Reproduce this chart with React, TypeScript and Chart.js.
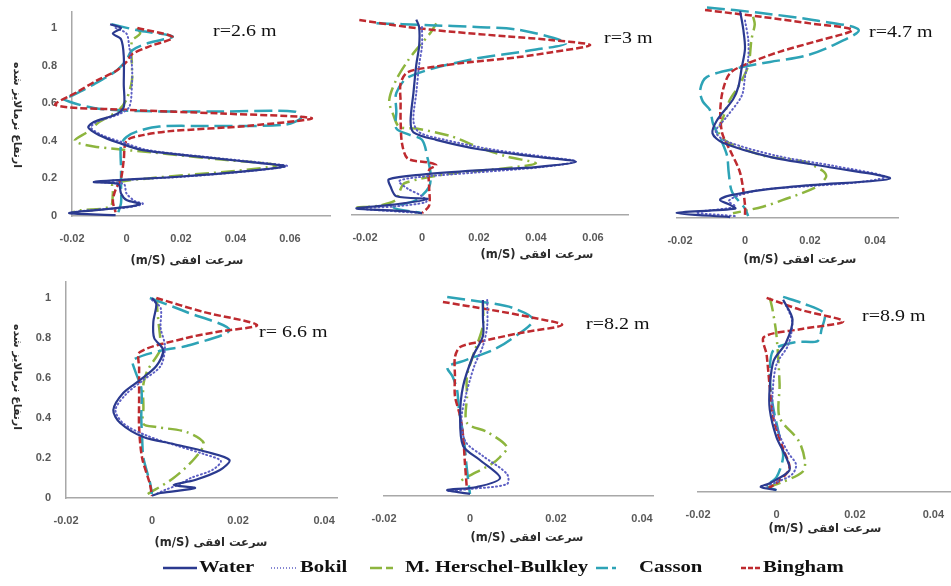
import React, { useEffect, useRef } from "react";
import { Chart, registerables } from "chart.js";
Chart.register(...registerables);

type Pt = [number, number]; // [horizontal velocity (m/s), normalized height]

// ---------- tick values ----------
const X_TICKS_WIDE = [-0.02, 0, 0.02, 0.04, 0.06];
const X_TICKS_NARROW = [-0.02, 0, 0.02, 0.04];
const Y_TICKS = [0, 0.2, 0.4, 0.6, 0.8, 1];

// ---------- labels ----------
const SERIES_NAMES = ["Water", "Bokil", "M. Herschel-Bulkley", "Casson", "Bingham"];
const PANEL_TITLES = ["r=2.6 m", "r=3 m", "r=4.7 m", "r= 6.6 m", "r=8.2 m", "r=8.9 m"];
const X_TITLE = "(m/S) سرعت افقی";
const Y_TITLE = "ارتفاع نرمالایز شده";

// ---------- panel 1 : r = 2.6 m ----------
const P1_WATER: Pt[] = [[-0.006,1.02],[-0.002,1.0],[-0.005,0.97],[-0.002,0.94],[-0.001,0.85],[-0.001,0.7],[-0.001,0.58],[-0.004,0.54],[-0.012,0.5],[-0.014,0.47],[-0.01,0.43],[-0.003,0.39],[0.006,0.35],[0.03,0.31],[0.05,0.28],[0.058,0.265],[0.045,0.24],[0.02,0.21],[-0.005,0.19],[-0.012,0.18],[-0.003,0.17],[-0.002,0.12],[0.0,0.085],[0.005,0.065],[0.001,0.05],[-0.012,0.03],[-0.021,0.015],[-0.004,0.005]];
const P1_BOKIL: Pt[] = [[-0.004,1.0],[0.0,0.97],[0.001,0.9],[0.002,0.8],[0.002,0.7],[0.001,0.58],[-0.003,0.54],[-0.011,0.5],[-0.013,0.47],[-0.009,0.43],[-0.001,0.39],[0.008,0.35],[0.032,0.31],[0.052,0.28],[0.059,0.265],[0.046,0.24],[0.022,0.21],[-0.003,0.19],[-0.01,0.18],[-0.001,0.17],[0.0,0.12],[0.003,0.08],[0.006,0.065],[0.0,0.045],[-0.014,0.03],[-0.02,0.02]];
const P1_MHB: Pt[] = [[0.004,1.0],[0.005,0.97],[0.002,0.93],[0.002,0.8],[0.002,0.72],[0.0,0.62],[-0.003,0.56],[-0.01,0.5],[-0.014,0.45],[-0.019,0.4],[-0.012,0.37],[0.008,0.34],[0.035,0.3],[0.055,0.27],[0.04,0.24],[0.008,0.2],[-0.005,0.17],[-0.005,0.12],[-0.006,0.05],[-0.017,0.03],[-0.02,0.02]];
const P1_CASSON: Pt[] = [[-0.0055,1.02],[0.005,0.985],[0.017,0.955],[0.008,0.92],[0.002,0.88],[0.0,0.83],[-0.004,0.77],[-0.012,0.7],[-0.02,0.64],[-0.023,0.62],[-0.012,0.575],[0.005,0.558],[0.035,0.556],[0.062,0.555],[0.064,0.52],[0.058,0.485],[0.03,0.479],[0.012,0.476],[0.004,0.45],[0.0,0.42],[-0.002,0.38],[-0.002,0.25],[-0.002,0.15],[-0.002,0.07],[-0.003,0.02]];
const P1_BINGHAM: Pt[] = [[0.004,1.0],[0.017,0.95],[0.008,0.9],[0.002,0.86],[0.0,0.82],[-0.004,0.77],[-0.011,0.72],[-0.018,0.66],[-0.026,0.59],[0.0,0.565],[0.035,0.545],[0.068,0.52],[0.045,0.48],[0.015,0.45],[0.006,0.43],[0.0,0.4],[-0.001,0.3],[-0.002,0.2],[-0.004,0.14],[-0.005,0.08],[-0.004,0.02]];

// ---------- panel 2 : r = 3 m ----------
const P2_WATER: Pt[] = [[-0.002,1.04],[-0.001,1.0],[-0.001,0.9],[-0.002,0.8],[-0.003,0.65],[-0.004,0.5],[-0.003,0.44],[0.005,0.4],[0.02,0.35],[0.04,0.31],[0.054,0.283],[0.04,0.255],[0.0225,0.24],[0.0,0.215],[-0.0116,0.19],[-0.011,0.15],[-0.009,0.1],[0.002,0.085],[-0.01,0.055],[-0.023,0.035],[-0.005,0.02],[0.0,0.01]];
const P2_BOKIL: Pt[] = [[0.0,1.0],[0.0,0.9],[-0.001,0.8],[-0.002,0.65],[-0.003,0.5],[-0.001,0.44],[0.008,0.4],[0.024,0.35],[0.043,0.31],[0.054,0.285],[0.042,0.255],[0.018,0.225],[-0.002,0.2],[-0.008,0.18],[-0.005,0.14],[0.0,0.1],[0.0015,0.07],[-0.01,0.045],[-0.022,0.035],[0.0,0.01]];
const P2_MHB: Pt[] = [[0.005,1.02],[0.003,0.97],[-0.002,0.88],[-0.005,0.82],[-0.009,0.72],[-0.0115,0.61],[-0.01,0.53],[-0.008,0.47],[-0.002,0.46],[0.01,0.42],[0.02,0.36],[0.03,0.31],[0.04,0.275],[0.03,0.25],[0.01,0.22],[-0.006,0.17],[-0.008,0.12],[-0.009,0.08],[-0.015,0.05],[-0.023,0.04]];
const P2_CASSON: Pt[] = [[-0.016,1.02],[0.0025,1.01],[0.019,1.0],[0.034,0.985],[0.0505,0.915],[0.04,0.88],[0.0165,0.825],[-0.0046,0.735],[-0.009,0.65],[-0.009,0.55],[-0.009,0.46],[-0.005,0.43],[0.0,0.4],[0.002,0.3],[0.003,0.22],[0.0025,0.15],[-0.002,0.08],[-0.01,0.04],[0.0,0.01]];
const P2_BINGHAM: Pt[] = [[-0.022,1.037],[-0.005,1.0],[0.0105,0.975],[0.03,0.95],[0.046,0.93],[0.059,0.904],[0.045,0.865],[0.034,0.84],[0.015,0.81],[0.005,0.79],[-0.005,0.76],[-0.0075,0.7],[-0.0075,0.6],[-0.0075,0.5],[-0.007,0.38],[-0.005,0.3],[0.002,0.28],[0.005,0.265],[0.0025,0.24],[0.0025,0.15],[0.0025,0.05],[0.0,0.01]];

// ---------- panel 3 : r = 4.7 m ----------
const P3_WATER: Pt[] = [[-0.0015,1.1],[-0.0005,1.0],[0.0,0.9],[-0.001,0.8],[-0.002,0.7],[-0.0037,0.63],[-0.0086,0.52],[-0.01,0.45],[-0.0068,0.4],[0.0077,0.325],[0.026,0.27],[0.0446,0.21],[0.02,0.175],[0.0055,0.15],[-0.0046,0.12],[-0.0077,0.096],[-0.0046,0.07],[-0.003,0.05],[-0.021,0.027],[-0.0046,0.005]];
const P3_BOKIL: Pt[] = [[0.0,1.05],[0.001,0.95],[0.001,0.85],[0.0,0.75],[-0.001,0.65],[-0.006,0.53],[-0.009,0.46],[-0.006,0.41],[0.01,0.33],[0.028,0.275],[0.043,0.22],[0.035,0.19],[0.02,0.17],[0.005,0.15],[-0.002,0.12],[-0.005,0.09],[-0.003,0.06],[-0.015,0.03],[-0.003,0.01]];
const P3_MHB: Pt[] = [[0.0025,1.07],[0.003,1.03],[0.002,0.95],[0.001,0.81],[-0.002,0.7],[-0.0046,0.63],[-0.007,0.52],[-0.008,0.45],[-0.005,0.4],[0.006,0.33],[0.018,0.3],[0.024,0.25],[0.025,0.22],[0.022,0.165],[0.0117,0.096],[0.0055,0.06],[-0.0037,0.025]];
const P3_CASSON: Pt[] = [[-0.0117,1.12],[0.005,1.09],[0.022,1.05],[0.035,1.0],[0.026,0.91],[0.018,0.86],[0.0077,0.83],[-0.0015,0.8],[-0.0117,0.75],[-0.0138,0.68],[-0.013,0.62],[-0.0108,0.575],[-0.0098,0.5],[-0.007,0.4],[-0.0055,0.33],[-0.005,0.24],[-0.004,0.14],[0.0,0.05],[0.001,0.01]];
const P3_BINGHAM: Pt[] = [[-0.0123,1.106],[0.005,1.07],[0.02,1.035],[0.033,1.0],[0.022,0.94],[0.0108,0.885],[0.0006,0.82],[-0.0046,0.77],[-0.0068,0.68],[-0.0076,0.57],[-0.007,0.45],[-0.0046,0.36],[-0.0015,0.24],[0.0,0.07],[0.0,0.01]];

// ---------- panel 4 : r = 6.6 m ----------
const P4_WATER: Pt[] = [[0.0,1.0],[0.001,0.97],[0.0003,0.88],[0.0005,0.8],[0.0026,0.74],[0.001,0.66],[-0.0028,0.59],[-0.0067,0.525],[-0.009,0.44],[-0.0074,0.375],[-0.002,0.305],[0.005,0.27],[0.0128,0.23],[0.018,0.19],[0.0158,0.14],[0.01,0.09],[0.005,0.065],[0.01,0.05],[0.002,0.025],[0.0,0.012]];
const P4_BOKIL: Pt[] = [[0.0,0.99],[0.002,0.95],[0.002,0.85],[0.003,0.76],[0.002,0.66],[-0.002,0.59],[-0.006,0.52],[-0.0085,0.44],[-0.0065,0.37],[-0.001,0.31],[0.006,0.26],[0.012,0.22],[0.016,0.185],[0.014,0.14],[0.009,0.1],[0.0065,0.07],[0.003,0.04],[0.001,0.02]];
const P4_MHB: Pt[] = [[0.0012,1.0],[0.0012,0.95],[0.0015,0.88],[0.0019,0.8],[0.0019,0.74],[-0.001,0.64],[-0.002,0.57],[-0.002,0.45],[-0.002,0.37],[0.001,0.355],[0.008,0.33],[0.012,0.275],[0.01,0.2],[0.005,0.1],[-0.001,0.02]];
const P4_CASSON: Pt[] = [[-0.0005,1.0],[0.008,0.93],[0.018,0.84],[0.008,0.76],[0.0026,0.74],[-0.0044,0.69],[-0.004,0.64],[-0.0025,0.55],[-0.0025,0.4],[-0.0023,0.3],[-0.002,0.2],[-0.0005,0.08],[0.0,0.02]];
const P4_BINGHAM: Pt[] = [[0.001,1.0],[0.012,0.93],[0.0244,0.865],[0.015,0.83],[0.008,0.8],[-0.0028,0.73],[-0.003,0.65],[-0.003,0.5],[-0.003,0.35],[-0.0023,0.2],[-0.0005,0.07],[0.0,0.01]];

// ---------- panel 5 : r = 8.2 m ----------
const P5_WATER: Pt[] = [[0.003,0.98],[0.003,0.9],[0.003,0.8],[0.0007,0.7],[-0.0016,0.55],[-0.0023,0.4],[-0.0016,0.25],[0.0023,0.18],[0.007,0.09],[0.0016,0.045],[-0.0053,0.03],[0.0,0.01]];
const P5_BOKIL: Pt[] = [[0.004,0.98],[0.004,0.85],[0.003,0.75],[0.001,0.65],[-0.001,0.5],[-0.002,0.38],[-0.001,0.27],[0.003,0.2],[0.0086,0.11],[0.0086,0.06],[0.0,0.035],[-0.005,0.025]];
const P5_MHB: Pt[] = [[0.003,0.97],[0.003,0.85],[0.001,0.72],[-0.0007,0.6],[-0.0007,0.5],[-0.0007,0.365],[0.004,0.32],[0.0086,0.245],[0.007,0.195],[0.005,0.16],[-0.0007,0.095],[-0.003,0.065]];
const P5_CASSON: Pt[] = [[-0.0053,0.995],[0.003,0.97],[0.01,0.94],[0.0147,0.88],[0.0093,0.78],[0.0053,0.73],[-0.0023,0.67],[-0.0053,0.645],[-0.004,0.595],[-0.003,0.53],[-0.0025,0.42],[-0.0015,0.3],[-0.0007,0.13],[0.0,0.01]];
const P5_BINGHAM: Pt[] = [[-0.0063,0.97],[0.005,0.93],[0.015,0.89],[0.0214,0.855],[0.0116,0.815],[0.002,0.77],[-0.0023,0.745],[-0.0035,0.695],[-0.0035,0.6],[-0.0035,0.5],[-0.0023,0.4],[-0.0016,0.3],[-0.0012,0.17],[-0.0007,0.03]];

// ---------- panel 6 : r = 8.9 m ----------
const P6_WATER: Pt[] = [[0.0017,0.98],[0.0041,0.88],[0.0024,0.76],[-0.0007,0.67],[-0.0017,0.535],[-0.0017,0.42],[0.0,0.28],[0.0024,0.18],[0.0033,0.11],[-0.0017,0.045],[-0.004,0.026],[0.0,0.01]];
const P6_BOKIL: Pt[] = [[0.002,0.97],[0.004,0.87],[0.003,0.75],[0.0,0.65],[-0.001,0.5],[-0.0008,0.4],[0.001,0.28],[0.003,0.2],[0.005,0.14],[0.004,0.09],[0.0,0.05],[-0.003,0.03]];
const P6_MHB: Pt[] = [[-0.0017,0.99],[-0.001,0.93],[0.0,0.8],[0.0008,0.55],[0.0008,0.38],[0.0057,0.26],[0.0073,0.15],[0.0065,0.1],[0.0008,0.045],[-0.003,0.02]];
const P6_CASSON: Pt[] = [[0.0017,0.995],[0.007,0.96],[0.0122,0.91],[0.0115,0.83],[0.0105,0.77],[0.005,0.765],[-0.0007,0.725],[-0.0017,0.61],[-0.001,0.45],[0.0008,0.28],[0.0017,0.18],[0.0,0.075],[-0.0025,0.03],[0.0,0.01]];
const P6_BINGHAM: Pt[] = [[-0.0025,0.99],[0.006,0.93],[0.017,0.87],[0.006,0.83],[-0.0032,0.79],[-0.0025,0.7],[-0.0017,0.535],[-0.0007,0.37],[0.0017,0.22],[0.0033,0.12],[0.0,0.045],[-0.002,0.02]];

// ---------- styles ----------
const COLORS = ["#2B3A8F", "#5D5FC4", "#8DB53E", "#2DA3B6", "#BE2A2F"];
const DASHES: number[][] = [[], [1, 3], [14, 5, 2, 5], [18, 6], [7, 3]];
const WIDTHS = [2.2, 2, 2.5, 2.5, 2.5];
const DRAW_ORDER = [0, 1, 4, 3, 2]; // first is drawn on top

type Panel = {
  series: Pt[][];
  xMin: number; xMax: number; yMax: number;
  l: number; r: number; t: number; b: number;
  showY: boolean; xTicks: number[];
  title: string; titlePos: [number, number];
  xTitlePos: [number, number];
};

const PANELS: Panel[] = [
  { series: [P1_WATER, P1_BOKIL, P1_MHB, P1_CASSON, P1_BINGHAM], xMin: -0.02, xMax: 0.0747, yMax: 1.085, l: 72, r: 330, t: 12, b: 216, showY: true, xTicks: X_TICKS_WIDE, title: PANEL_TITLES[0], titlePos: [213, 22], xTitlePos: [187, 260] },
  { series: [P2_WATER, P2_BOKIL, P2_MHB, P2_CASSON, P2_BINGHAM], xMin: -0.02456, xMax: 0.07228, yMax: 1.08, l: 352, r: 628, t: 12, b: 215, showY: false, xTicks: X_TICKS_WIDE, title: PANEL_TITLES[1], titlePos: [604, 29], xTitlePos: [537, 254] },
  { series: [P3_WATER, P3_BOKIL, P3_MHB, P3_CASSON, P3_BINGHAM], xMin: -0.02092, xMax: 0.04708, yMax: 1.138, l: 677, r: 898, t: 4, b: 218, showY: false, xTicks: X_TICKS_NARROW, title: PANEL_TITLES[2], titlePos: [869, 23], xTitlePos: [800, 259] },
  { series: [P4_WATER, P4_BOKIL, P4_MHB, P4_CASSON, P4_BINGHAM], xMin: -0.02, xMax: 0.043, yMax: 1.08, l: 66, r: 337, t: 282, b: 498, showY: true, xTicks: X_TICKS_NARROW, title: PANEL_TITLES[3], titlePos: [259, 323], xTitlePos: [211, 542] },
  { series: [P5_WATER, P5_BOKIL, P5_MHB, P5_CASSON, P5_BINGHAM], xMin: -0.02, xMax: 0.04256, yMax: 1.07, l: 384, r: 653, t: 282, b: 496, showY: false, xTicks: X_TICKS_NARROW, title: PANEL_TITLES[4], titlePos: [586, 315], xTitlePos: [527, 537] },
  { series: [P6_WATER, P6_BOKIL, P6_MHB, P6_CASSON, P6_BINGHAM], xMin: -0.02, xMax: 0.0445, yMax: 1.071, l: 698, r: 951, t: 282, b: 492, showY: false, xTicks: X_TICKS_NARROW, title: PANEL_TITLES[5], titlePos: [862, 307], xTitlePos: [825, 528] },
];

const YW = 60;   // y-axis band
const PAD_T = 6; // space above plot
const XH = 44;   // x-axis band
const TICK_FONT = { family: "'Liberation Sans', Arial, sans-serif", size: 11, weight: "bold" as const };

function PanelChart({ p }: { p: Panel }) {
  const ref = useRef<HTMLCanvasElement>(null);
  const padR = Math.min(8, 951 - p.r);
  const cw = p.r - p.l + YW + padR;
  const ch = p.b - p.t + PAD_T + XH;

  useEffect(() => {
    if (!ref.current) return;
    const datasets = DRAW_ORDER.map((si) => ({
      label: SERIES_NAMES[si],
      data: p.series[si].map(([v, h]) => ({ x: v, y: h })),
      showLine: true,
      borderColor: COLORS[si],
      backgroundColor: COLORS[si],
      borderWidth: WIDTHS[si],
      borderDash: DASHES[si],
      borderCapStyle: si === 1 ? ("round" as const) : ("butt" as const),
      pointRadius: 0,
      pointHoverRadius: 0,
      tension: 0.3,
      fill: false,
      clip: false as const,
    }));
    const chart = new Chart(ref.current, {
      type: "scatter",
      data: { datasets },
      options: {
        animation: false,
        responsive: false,
        devicePixelRatio: 1,
        events: [],
        layout: { padding: { left: p.showY ? 0 : YW, right: padR, top: PAD_T, bottom: 0 } },
        plugins: { legend: { display: false }, tooltip: { enabled: false }, title: { display: false } },
        scales: {
          x: {
            type: "linear",
            min: p.xMin,
            max: p.xMax,
            grid: { display: false, drawTicks: false },
            border: { display: true, color: "#A8A8A8", width: 1.5 },
            ticks: { padding: 16, font: TICK_FONT, color: "#595959", autoSkip: false, maxRotation: 0, callback: (v: any) => String(v) },
            afterBuildTicks: (s: any) => { s.ticks = p.xTicks.map((v) => ({ value: v })); },
            afterFit: (s: any) => { s.height = XH; s.paddingLeft = 0; s.paddingRight = 0; },
          },
          y: {
            type: "linear",
            display: p.showY,
            min: 0,
            max: p.yMax,
            grid: { display: false, drawTicks: false },
            border: { display: true, color: "#A8A8A8", width: 1.5 },
            ticks: { padding: 15, font: TICK_FONT, color: "#595959", autoSkip: false, callback: (v: any) => String(v) },
            afterBuildTicks: (s: any) => { s.ticks = Y_TICKS.map((v) => ({ value: v })); },
            afterFit: (s: any) => { s.width = p.showY ? YW : 0; s.paddingTop = 0; s.paddingBottom = 0; },
          },
        },
      },
    });
    return () => chart.destroy();
  }, []);

  return (
    <canvas
      ref={ref}
      width={cw}
      height={ch}
      style={{ position: "absolute", left: p.l - YW, top: p.t - PAD_T, width: cw, height: ch }}
    />
  );
}

const LEGEND_POS: { sample: [number, number]; text: number }[] = [
  { sample: [163, 197], text: 199 },
  { sample: [271, 298], text: 300 },
  { sample: [370, 393], text: 405 },
  { sample: [596, 616], text: 639 },
  { sample: [741, 761], text: 763 },
];

export default function App() {
  return (
    <div style={{ position: "absolute", left: 0, top: 0, width: 951, height: 586, background: "#fff", overflow: "hidden" }}>
      {PANELS.map((p, i) => <PanelChart key={i} p={p} />)}

      {PANELS.map((p, i) => (
        <div key={"t" + i} style={{ position: "absolute", left: p.titlePos[0], top: p.titlePos[1], fontFamily: "'Liberation Serif', 'Times New Roman', serif", fontSize: 16, color: "#111", whiteSpace: "nowrap", transform: "scaleX(1.25)", transformOrigin: "left center" }}>
          {p.title}
        </div>
      ))}

      {PANELS.map((p, i) => (
        <div key={"x" + i} style={{ position: "absolute", left: p.xTitlePos[0], top: p.xTitlePos[1], transform: "translate(-50%, -50%)", fontFamily: "'DejaVu Sans', sans-serif", fontWeight: "bold", fontSize: 11.5, color: "#2a2a2a", whiteSpace: "nowrap", direction: "ltr" }}>
          {X_TITLE}
        </div>
      ))}

      {[115, 377].map((cy, i) => (
        <div key={"y" + i} style={{ position: "absolute", left: 17, top: cy, transform: "translate(-50%, -50%) rotate(90deg)", fontFamily: "'DejaVu Sans', sans-serif", fontWeight: "bold", fontSize: 11, color: "#2a2a2a", whiteSpace: "nowrap" }}>
          {Y_TITLE}
        </div>
      ))}

      {LEGEND_POS.map((lp, i) => (
        <React.Fragment key={"l" + i}>
          <svg style={{ position: "absolute", left: lp.sample[0], top: 564 }} width={lp.sample[1] - lp.sample[0]} height={8}>
            <line x1={0} y1={4} x2={lp.sample[1] - lp.sample[0]} y2={4} stroke={COLORS[i]} strokeWidth={i === 1 ? 1.5 : 2.5} strokeDasharray={i === 1 ? "1 2" : i === 4 ? "5 2" : i === 0 ? undefined : "12 4"} />
          </svg>
          <div style={{ position: "absolute", left: lp.text, top: 557, fontFamily: "'Liberation Serif', 'Times New Roman', serif", fontWeight: "bold", fontSize: 17, color: "#111", whiteSpace: "nowrap", transform: "scaleX(1.22)", transformOrigin: "left center" }}>
            {SERIES_NAMES[i]}
          </div>
        </React.Fragment>
      ))}
    </div>
  );
}
